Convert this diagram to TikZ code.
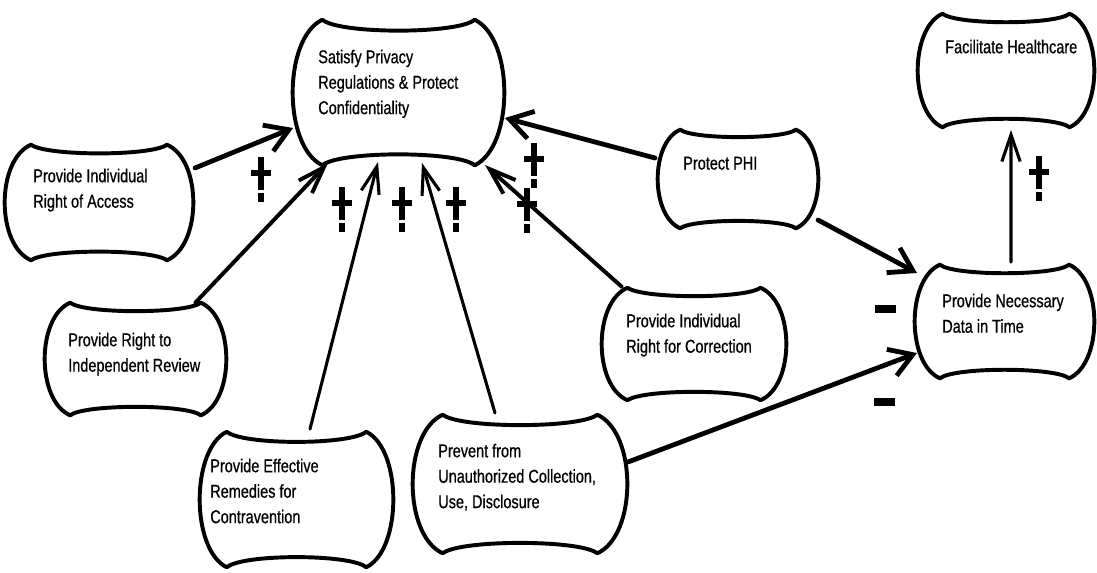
\documentclass[tikz,border=0pt]{standalone}
\usepackage{fontspec}
\setmainfont{Liberation Sans}[FakeStretch=0.78, FakeBold=0.6]
\usetikzlibrary{arrows.meta,calc,fit}

\tikzset{
  goalbox/.style={draw=none, rectangle, inner sep=0pt},
  cloud/.style={line width=2.8pt, line join=round},
  goaltext/.style={anchor=north west, inner sep=0pt, align=left,
    font=\fontsize{13.2pt}{18.1pt}\selectfont},
  conn/.style={line width=2.2pt, line cap=round, line join=round},
  heavy/.style={line width=3.4pt},
  medium/.style={line width=2.8pt},
  widehead/.style={-{Straight Barb[length=16pt,width=20pt]}},
  narrowhead/.style={-{Straight Barb[length=19pt,width=13pt]}},
  markstroke/.style={line width=4.4pt, line cap=butt},
  plussign/.pic={\draw[markstroke] (-10,0) -- (10,0) (0,-16) -- (0,17) (0,20) -- (0,29);},
  minussign/.pic={\fill (-10.5,-4) rectangle (10.5,4);}
}

% softgoal outline: concave top and bottom, rounded bulging sides
\newcommand\cloudline[1]{%
  \draw[cloud] let \p1=(#1.north west), \p2=(#1.south east),
      \n1={\x2-\x1}, \n2={\y1-\y2} in
    ({\x1+0.14*\n1},\y1)
    .. controls ({\x1+0.22*\n1},{\y1-0.10*\n2}) and ({\x1+0.78*\n1},{\y1-0.10*\n2}) .. ({\x1+0.86*\n1},\y1)
    .. controls ({\x1+1.047*\n1},{\y1-0.13*\n2}) and ({\x1+1.047*\n1},{\y1-0.87*\n2}) .. ({\x1+0.86*\n1},\y2)
    .. controls ({\x1+0.78*\n1},{\y2+0.10*\n2}) and ({\x1+0.22*\n1},{\y2+0.10*\n2}) .. ({\x1+0.14*\n1},\y2)
    .. controls ({\x1-0.047*\n1},{\y1-0.87*\n2}) and ({\x1-0.047*\n1},{\y1-0.13*\n2}) .. ({\x1+0.14*\n1},\y1)
    -- cycle;}

\begin{document}
\begin{tikzpicture}[x=0.025cm, y=-0.025cm]
\useasboundingbox (0,0) rectangle (1097,572);

% goals
\node[goalbox, fit={(293,20) (504,165)}] (sat) {};
\node[goalbox, fit={(5,145) (193,260)}] (acc) {};
\node[goalbox, fit={(45,303) (226,415)}] (rev) {};
\node[goalbox, fit={(200,432) (393,567)}] (rem) {};
\node[goalbox, fit={(413,415) (627,553)}] (prv) {};
\node[goalbox, fit={(602,288) (786,400)}] (cor) {};
\node[goalbox, fit={(658,130) (818,228)}] (phi) {};
\node[goalbox, fit={(915,265) (1094,378)}] (nec) {};
\node[goalbox, fit={(918,14) (1094,127)}] (fac) {};

\foreach \g in {sat,acc,rev,rem,prv,cor,phi,nec,fac} {\cloudline{\g}}

% goal labels
\node[goaltext] (sat-t) at (318,49.5) {Satisfy Privacy\\Regulations \& Protect\\Confidentiality};
\node[goaltext] (acc-t) at (33,168.5) {Provide Individual\\Right of Access};
\node[goaltext] (rev-t) at (68,332.5) {Provide Right to\\Independent Review};
\node[goaltext] (rem-t) at (210,458.5) {Provide Effective\\Remedies for\\Contravention};
\node[goaltext] (prv-t) at (438,443.5) {Prevent from\\Unauthorized Collection,\\Use, Disclosure};
\node[goaltext] (cor-t) at (626,313.5) {Provide Individual\\Right for Correction};
\node[goaltext] (phi-t) at (683,156.5) {Protect PHI};
\node[goaltext] (nec-t) at (942,293.5) {Provide Necessary\\Data in Time};
\node[goaltext] (fac-t) at (945,39.5) {Facilitate Healthcare};

% contributions
\draw[conn, heavy, widehead]  ($(acc)+(96,-34.5)$) -- ($(sat)+(-105.5,35.5)$);
\draw[conn, medium, narrowhead] ($(rev)+(59.5,-56)$) -- ($(sat)+(-70.5,70.5)$);
\draw[conn, narrowhead] ($(rem)+(13.5,-70.5)$) -- ($(sat)+(-20.5,69.5)$);
\draw[conn, narrowhead] ($(prv)+(-25,-71)$) -- ($(sat)+(23.5,70.5)$);
\draw[conn, medium, narrowhead] ($(cor)+(-72,-57)$) -- ($(sat)+(86.5,72.5)$);
\draw[conn, heavy, widehead] ($(phi)+(-83,-21)$) -- ($(sat)+(106.5,25.5)$);
\draw[conn, heavy, widehead] ($(phi)+(80,41)$) -- ($(nec)+(-87.5,-48.5)$);
\draw[conn, heavy, widehead] ($(prv)+(108,-22)$) -- ($(nec)+(-87.5,31.5)$);
\draw[conn, narrowhead] ($(nec)+(6.5,-59.5)$) -- ($(fac)+(5,59.5)$);

% contribution signs
\pic at (261,173) {plussign};
\pic at (342,203) {plussign};
\pic at (402,203) {plussign};
\pic at (456,203) {plussign};
\pic at (527,204) {plussign};
\pic at (534,159) {plussign};
\pic at (1039,172) {plussign};
\pic at (885,309) {minussign};
\pic at (884,402) {minussign};
\end{tikzpicture}
\end{document}
